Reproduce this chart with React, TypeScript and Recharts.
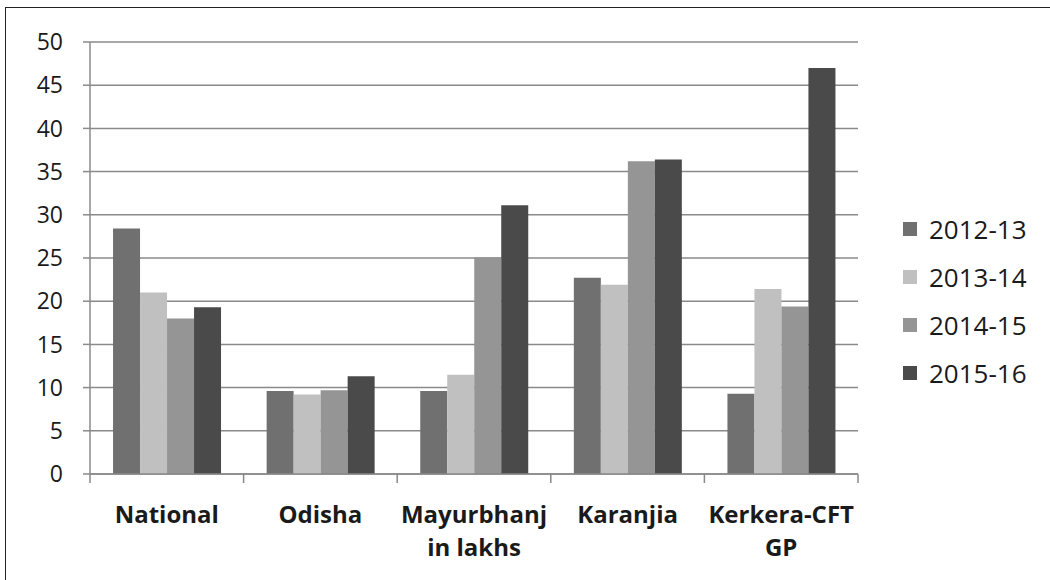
import { BarChart, Bar, XAxis, YAxis, CartesianGrid } from "recharts";

const categories = ["National", "Odisha", "Mayurbhanj\nin lakhs", "Karanjia", "Kerkera-CFT\nGP"];
const years = ["2012-13", "2013-14", "2014-15", "2015-16"];
const y2012 = [28.4, 9.6, 9.6, 22.7, 9.3];
const y2013 = [21.0, 9.2, 11.5, 21.9, 21.4];
const y2014 = [18.0, 9.7, 25.1, 36.2, 19.4];
const y2015 = [19.3, 11.3, 31.1, 36.4, 47.0];
const yTicks = [0, 5, 10, 15, 20, 25, 30, 35, 40, 45, 50];

const COLORS = ["#707070", "#c0c0c0", "#959595", "#4a4a4a"];
const FONT = "'Open Sans', 'DejaVu Sans', sans-serif";

const series = [y2012, y2013, y2014, y2015];
const data = categories.map((name, i) => {
  const row: any = { name };
  years.forEach((yr, s) => {
    row[yr] = series[s][i];
  });
  return row;
});

const PLOT_W = 768;

function CategoryTick(props: any) {
  const { x, y, payload, index } = props;
  const half = payload?.offset || PLOT_W / categories.length / 2;
  const lines = String(payload.value).split("\n");
  return (
    <g>
      <line x1={x - half} y1={y} x2={x - half} y2={y + 9} stroke="#888" strokeWidth={1.5} />
      {index === categories.length - 1 && (
        <line x1={x + half} y1={y} x2={x + half} y2={y + 9} stroke="#888" strokeWidth={1.5} />
      )}
      {lines.map((t, k) => (
        <text
          key={k}
          x={x}
          y={y + 49 + k * 33}
          textAnchor="middle"
          fontFamily={FONT}
          fontWeight={700}
          fontSize={24}
          fill="#1a1a1a"
        >
          {t}
        </text>
      ))}
    </g>
  );
}

export default function App() {
  return (
    <div style={{ position: "absolute", left: 0, top: 0, width: 1050, height: 580, background: "#fff" }}>
      <div
        style={{
          position: "absolute",
          left: 5,
          top: 7,
          right: 0,
          bottom: 0,
          borderTop: "1.5px solid #222",
          borderLeft: "1.5px solid #222",
        }}
      />
      <BarChart
        width={1050}
        height={580}
        data={data}
        margin={{ top: 42, right: 192, bottom: 16, left: 30 }}
        barCategoryGap="15%"
        barGap={0}
        style={{ position: "absolute", left: 0, top: 0 }}
      >
        <CartesianGrid vertical={false} stroke="#8a8a8a" strokeWidth={1.5} />
        <XAxis
          dataKey="name"
          height={90}
          interval={0}
          tickSize={0}
          tickMargin={0}
          tick={<CategoryTick />}
          axisLine={{ stroke: "#8a8a8a", strokeWidth: 1.5 }}
          tickLine={false}
        />
        <YAxis
          width={60}
          domain={[0, 50]}
          ticks={yTicks}
          interval={0}
          tickSize={7}
          tickMargin={20}
          axisLine={{ stroke: "#8a8a8a", strokeWidth: 1.5 }}
          tickLine={{ stroke: "#8a8a8a", strokeWidth: 1.5 }}
          tick={{ fontFamily: FONT, fontSize: 23, fill: "#1a1a1a" }}
        />
        {years.map((yr, s) => (
          <Bar key={yr} dataKey={yr} fill={COLORS[s]} isAnimationActive={false} />
        ))}
      </BarChart>
      <div style={{ position: "absolute", left: 903, top: 205, fontFamily: FONT }}>
        {years.map((yr, s) => (
          <div key={yr} style={{ display: "flex", alignItems: "center", height: 48 }}>
            <div style={{ width: 14, height: 14, background: COLORS[s], marginRight: 12 }} />
            <span style={{ fontSize: 26, color: "#1a1a1a", lineHeight: "48px" }}>{yr}</span>
          </div>
        ))}
      </div>
    </div>
  );
}
